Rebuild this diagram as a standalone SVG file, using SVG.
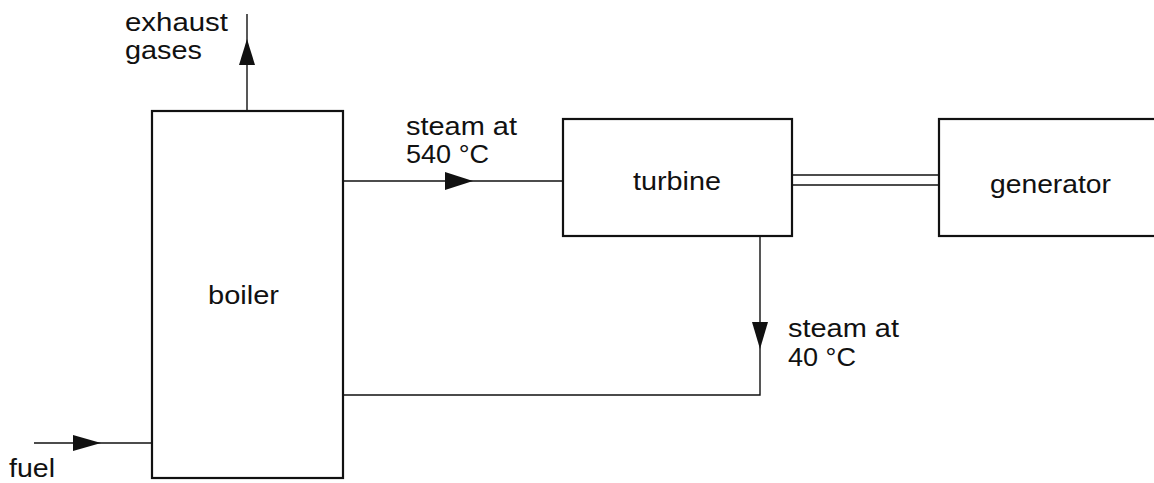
<svg xmlns="http://www.w3.org/2000/svg" width="1154" height="483" viewBox="0 0 1154 483">
<style>
.box{fill:none;stroke:#111;stroke-width:2.2}
.ln{fill:none;stroke:#111;stroke-width:1.4}
.ah{fill:#111;stroke:none}
text{font-family:"Liberation Sans",Arial,sans-serif;font-size:25px;fill:#111}
</style>
<rect width="1154" height="483" fill="#fff"/>
<g id="connectors">
<line class="ln" x1="247" y1="111" x2="247" y2="14"/>
<polygon class="ah" points="247,39 239,65 255,65"/>
<line class="ln" x1="343" y1="181" x2="563" y2="181"/>
<polygon class="ah" points="473,181 445,172 445,190"/>
<line class="ln" x1="792" y1="175" x2="939" y2="175"/>
<line class="ln" x1="792" y1="185" x2="939" y2="185"/>
<polyline class="ln" points="760,236 760,395 343,395"/>
<polygon class="ah" points="760,349 752,322 768,322"/>
<line class="ln" x1="34" y1="443" x2="152" y2="443"/>
<polygon class="ah" points="101,443 73,435 73,451"/>
</g>
<g id="boiler">
<rect class="box" x="152" y="111" width="191" height="367"/>
<text x="208" y="304" textLength="71" lengthAdjust="spacingAndGlyphs">boiler</text>
</g>
<g id="turbine">
<rect class="box" x="563" y="119" width="229" height="117"/>
<text x="633" y="190" textLength="88" lengthAdjust="spacingAndGlyphs">turbine</text>
</g>
<g id="generator">
<rect class="box" x="939" y="119" width="240" height="117"/>
<text x="990" y="193" textLength="121" lengthAdjust="spacingAndGlyphs">generator</text>
</g>
<g id="labels">
<text x="125" y="31" textLength="103" lengthAdjust="spacingAndGlyphs">exhaust</text>
<text x="125" y="59" textLength="77" lengthAdjust="spacingAndGlyphs">gases</text>
<text x="406" y="135" textLength="111" lengthAdjust="spacingAndGlyphs">steam at</text>
<text x="406" y="163" textLength="83" lengthAdjust="spacingAndGlyphs">540 °C</text>
<text x="788" y="337" textLength="111" lengthAdjust="spacingAndGlyphs">steam at</text>
<text x="788" y="366" textLength="68" lengthAdjust="spacingAndGlyphs">40 °C</text>
<text x="9" y="477" textLength="46" lengthAdjust="spacingAndGlyphs">fuel</text>
</g>
</svg>
